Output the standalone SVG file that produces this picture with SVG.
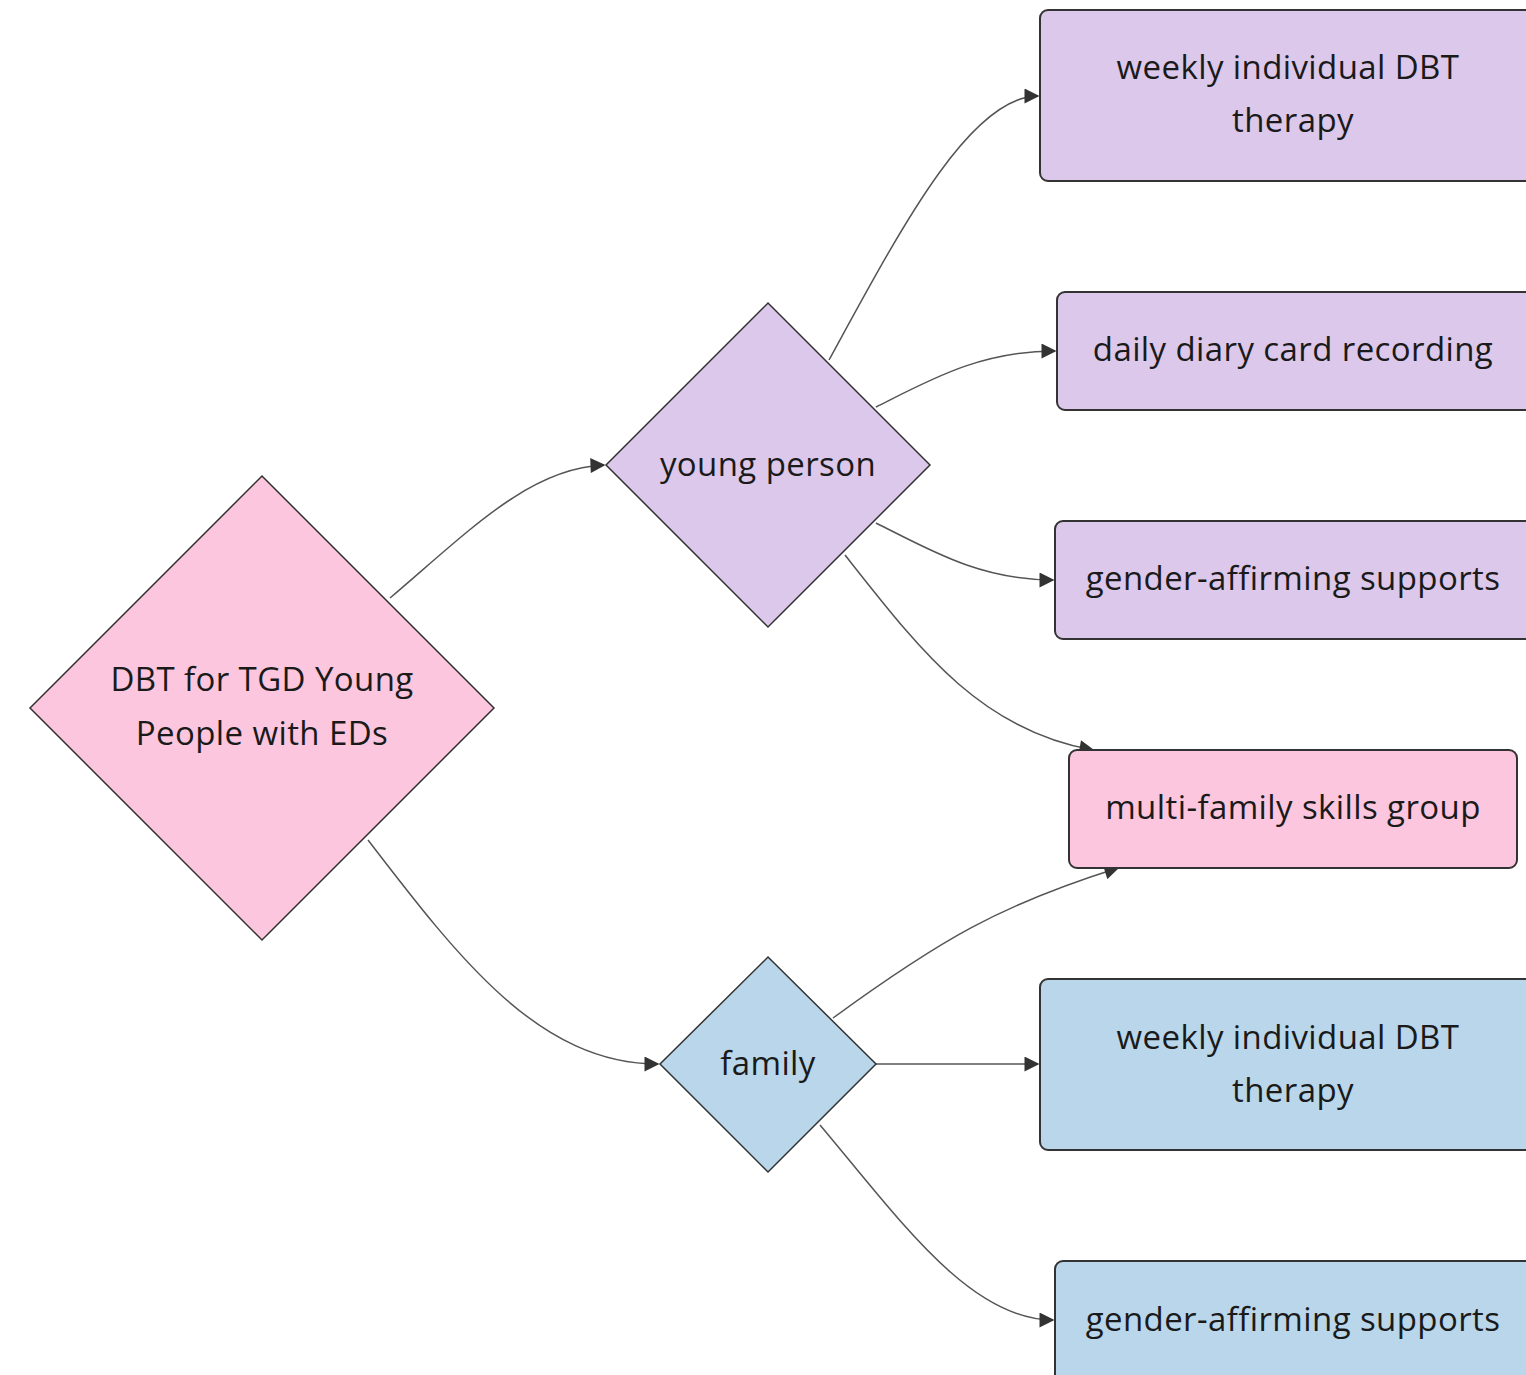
<svg xmlns="http://www.w3.org/2000/svg" width="1526" height="1375" viewBox="0 0 1526 1375">
<defs>
<marker id="arr" viewBox="0 0 10 10" refX="9" refY="5" markerWidth="16" markerHeight="15" markerUnits="userSpaceOnUse" orient="auto">
<path d="M0,0 L10,5 L0,10 z" fill="#333"/>
</marker>
<style>
.lbl{font-family:"Open Sans","Noto Sans","DejaVu Sans",sans-serif;font-size:33px;letter-spacing:0.4px;fill:#1a1a1a;text-anchor:middle;dominant-baseline:central}
.edge{fill:none;stroke:#555;stroke-width:1.5;marker-end:url(#arr)}
.pur{fill:#dcc8ea;stroke:#333;stroke-width:2}
.pnk{fill:#fbc6de;stroke:#333;stroke-width:2}
.blu{fill:#b9d6ea;stroke:#333;stroke-width:2}
</style>
</defs>
<rect width="1526" height="1375" fill="#fff"/>
<g id="connectors">
<path class="edge" d="M390,598 C470,530 530,468 604,465"/>
<path class="edge" d="M368,840 C460,960 540,1064 658,1064"/>
<path class="edge" d="M829,360 C900,230 970,96 1038,96"/>
<path class="edge" d="M876,407 C930,380 980,351 1055,351"/>
<path class="edge" d="M876,523 C930,550 980,580 1053,580"/>
<path class="edge" d="M845,555 C920,650 980,730 1093,750"/>
<path class="edge" d="M833,1018 C940,940 1000,905 1118,868"/>
<path class="edge" d="M876,1064 L1038,1064"/>
<path class="edge" d="M820,1125 C900,1220 970,1320 1053,1320"/>
</g>
<g id="root">
<polygon class="pnk" style="stroke-width:1.5" points="262,476 494,708 262,940 30,708"/>
<text class="lbl" x="262" y="678">DBT for TGD Young</text>
<text class="lbl" x="262" y="732">People with EDs</text>
</g>
<g id="young-person">
<polygon class="pur" style="stroke-width:1.5" points="768,303 930,465 768,627 606,465"/>
<text class="lbl" x="768" y="463">young person</text>
</g>
<g id="family">
<polygon class="blu" style="stroke-width:1.5" points="768,957 876,1064 768,1172 660,1064"/>
<text class="lbl" x="768" y="1062">family</text>
</g>
<g id="yp-weekly">
<rect class="pur" x="1040" y="10" width="500" height="171" rx="8"/>
<text class="lbl" x="1288" y="66">weekly individual DBT</text>
<text class="lbl" x="1293" y="119">therapy</text>
</g>
<g id="yp-diary">
<rect class="pur" x="1057" y="292" width="480" height="118" rx="8"/>
<text class="lbl" x="1293" y="348">daily diary card recording</text>
</g>
<g id="yp-gender">
<rect class="pur" x="1055" y="521" width="480" height="118" rx="8"/>
<text class="lbl" x="1293" y="577">gender-affirming supports</text>
</g>
<g id="multi-family">
<rect class="pnk" x="1069" y="750" width="448" height="118" rx="8"/>
<text class="lbl" x="1293" y="806">multi-family skills group</text>
</g>
<g id="fam-weekly">
<rect class="blu" x="1040" y="979" width="500" height="171" rx="8"/>
<text class="lbl" x="1288" y="1036">weekly individual DBT</text>
<text class="lbl" x="1293" y="1089">therapy</text>
</g>
<g id="fam-gender">
<rect class="blu" x="1055" y="1261" width="480" height="130" rx="8"/>
<text class="lbl" x="1293" y="1318">gender-affirming supports</text>
</g>
</svg>
